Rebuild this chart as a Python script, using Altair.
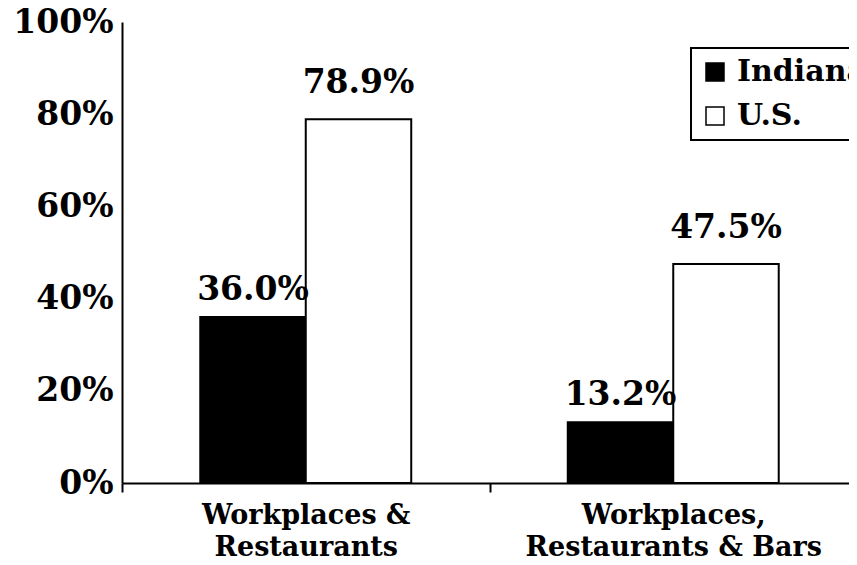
import altair as alt
import pandas as pd

categories = ["Workplaces &|Restaurants", "Workplaces,|Restaurants & Bars"]
series = ["Indiana", "U.S."]
indiana = [0.360, 0.132]
us = [0.789, 0.475]
colors = ["black", "white"]

rows = []
for i, c in enumerate(categories):
    rows.append({"cat": c, "series": "Indiana", "value": indiana[i]})
    rows.append({"cat": c, "series": "U.S.", "value": us[i]})
df = pd.DataFrame(rows)

FONT = "DejaVu Serif"

x = alt.X("cat:N", sort=categories, title=None,
          scale=alt.Scale(paddingInner=0, paddingOuter=0, range=[0, 735]),
          axis=alt.Axis(labelAngle=0, tickBand="extent", domainColor="black", domainWidth=2,
                        tickColor="black", tickWidth=2, tickSize=9, labelPadding=10,
                        labelFont=FONT, labelFontWeight="bold", labelFontSize=27,
                        labelLineHeight=32, labelColor="black", labelLimit=0,
                        labelExpr="split(datum.label, '|')"))
xo = alt.XOffset("series:N", sort=series,
                 scale=alt.Scale(paddingInner=0, paddingOuter=0.742))
y = alt.Y("value:Q", title=None,
          scale=alt.Scale(domain=[0, 1], nice=False),
          axis=alt.Axis(values=[0, 0.2, 0.4, 0.6, 0.8, 1.0], format=".0%", grid=False,
                        ticks=False, tickSize=0, domainColor="black", domainWidth=2,
                        labelPadding=9, labelFont=FONT, labelFontWeight="bold",
                        labelFontSize=33, labelColor="black"))

base = alt.Chart(df)

bars = base.mark_bar(stroke="black", strokeWidth=2).encode(
    x=x, xOffset=xo, y=y,
    fill=alt.Fill("series:N", sort=series,
                  scale=alt.Scale(domain=series, range=colors),
                  legend=alt.Legend(title=None, orient="none", legendX=569, legendY=26,
                                    symbolType="square", symbolSize=324,
                                    symbolStrokeColor="black", symbolStrokeWidth=1.5,
                                    labelFont=FONT, labelFontWeight="bold", labelFontSize=30,
                                    labelColor="black", labelOffset=7, rowPadding=14,
                                    padding=9, strokeColor="black"))
)

text_style = dict(font=FONT, fontWeight="bold", fontSize=33, color="black",
                  align="center", baseline="alphabetic")

lab_in = base.transform_filter(alt.datum.series == "Indiana").mark_text(dy=-17, **text_style).encode(
    x=x, xOffset=xo, y=y, text=alt.Text("value:Q", format=".1%"))
lab_us = base.transform_filter(alt.datum.series == "U.S.").mark_text(dy=-26, **text_style).encode(
    x=x, xOffset=xo, y=y, text=alt.Text("value:Q", format=".1%"))

chart = alt.layer(bars, lab_in, lab_us).properties(
    width=727, height=461,
    autosize=alt.AutoSizeParams(type="none"),
    padding={"left": 114, "top": 14, "right": 0, "bottom": 74},
).configure_view(stroke=None).configure_legend(strokeWidth=2)

chart.save("out.html", embed_options={"renderer": "svg", "actions": False})
